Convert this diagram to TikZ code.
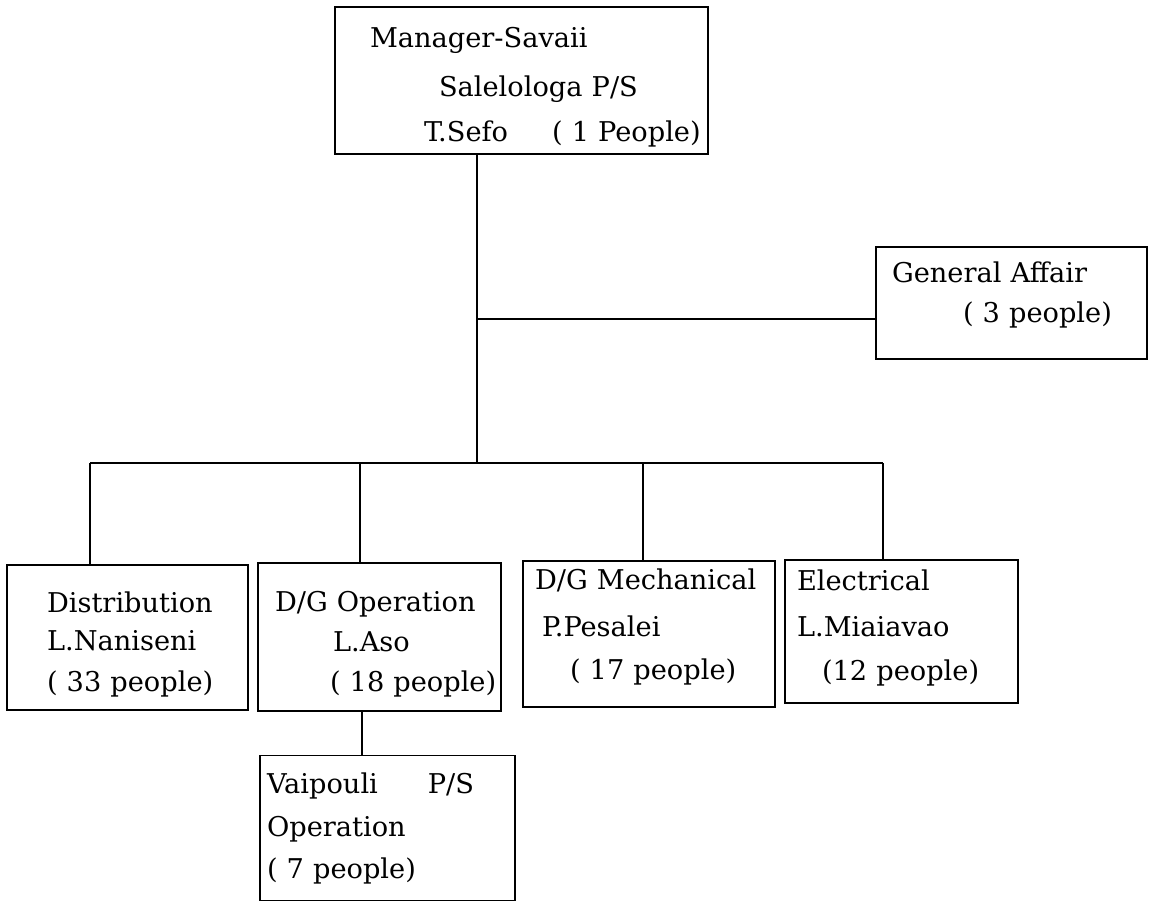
\documentclass[tikz,border=0pt]{standalone}
\usepackage{fontspec}
\setmainfont{DejaVu Serif}
\usepackage{tikz}
\usetikzlibrary{positioning,calc}
\tikzset{
  unit/.style={draw, line width=1pt, inner sep=0pt, align=left,
               font=\fontsize{15.5}{22.7}\selectfont},
  textup/.style={execute at end node={\par\vspace*{#1}}},
  link/.style={line width=0.8pt},
}

\begin{document}
\begin{tikzpicture}[x=0.02cm, y=-0.02cm]
  \useasboundingbox (0,0) rectangle (1159,903);
  % boxes
  \node[unit, textup=-0.28cm, minimum width=7.46cm, minimum height=2.94cm, text width=6.06cm] (mgr) at (521.5,80.5)
    {\mbox{Manager-Savaii}\\[5.2pt]
     \mbox{\hspace{1.38cm}Salelologa P/S}\\[2.9pt]
     \mbox{\hspace{1.08cm}T.Sefo\hspace{0.88cm}( 1 People)}};
  \node[unit, textup=0.32cm, minimum width=5.42cm, minimum height=2.24cm, text width=4.78cm] (ga) at (1011.5,303)
    {\mbox{General Affair}\\
     \mbox{\hspace{1.42cm}( 3 people)}};
  \node[unit, textup=-0.28cm, minimum width=4.82cm, minimum height=2.9cm, text width=3.22cm] (dist) at (127.5,637.5)
    {\mbox{Distribution}\\[-1.1pt]
     \mbox{L.Naniseni}\\[1.2pt]
     \mbox{( 33 people)}};
  \node[unit, textup=-0.28cm, minimum width=4.86cm, minimum height=2.96cm, text width=4.18cm] (dgop) at (379.5,637)
    {\mbox{D/G Operation}\\
     \mbox{\hspace{1.16cm}L.Aso}\\
     \mbox{\hspace{1.1cm}( 18 people)}};
  \node[unit, textup=0.28cm, minimum width=5.04cm, minimum height=2.92cm, text width=4.56cm] (dgmech) at (649,634)
    {\mbox{D/G Mechanical}\\[4pt]
     \mbox{\hspace{0.14cm}P.Pesalei}\\[1.8pt]
     \mbox{\hspace{0.7cm}( 17 people)}};
  \node[unit, textup=0.16cm, minimum width=4.66cm, minimum height=2.86cm, text width=4.18cm] (elec) at (901.5,631.5)
    {\mbox{Electrical}\\[4pt]
     \mbox{L.Miaiavao}\\[1.8pt]
     \mbox{\hspace{0.5cm}(12 people)}};
  \node[unit, minimum width=5.1cm, minimum height=2.9cm, text width=4.82cm] (vaip) at (387.5,828)
    {\mbox{Vaipouli\hspace{1cm}P/S}\\[1.8pt]
     \mbox{Operation}\\[1.2pt]
     \mbox{( 7 people)}};
  % junctions
  \coordinate (trunk) at (477,463);
  \coordinate (gajoin) at (477,319);
  \coordinate (tdist) at (90,463);
  \coordinate (tdgop) at (360,463);
  \coordinate (tdgmech) at (643,463);
  \coordinate (telec) at (883,463);
  \coordinate (tvaip) at (362,733);
  % connectors
  \draw[link] (trunk |- mgr.south) -- (trunk);
  \draw[link] (gajoin) -- (gajoin -| ga.west);
  \draw[link] (tdist) -- (telec);
  \draw[link] (tdist) -- (tdist |- dist.north);
  \draw[link] (tdgop) -- (tdgop |- dgop.north);
  \draw[link] (tdgmech) -- (tdgmech |- dgmech.north);
  \draw[link] (telec) -- (telec |- elec.north);
  \draw[link] (tvaip |- dgop.south) -- (tvaip |- vaip.north);
\end{tikzpicture}
\end{document}
